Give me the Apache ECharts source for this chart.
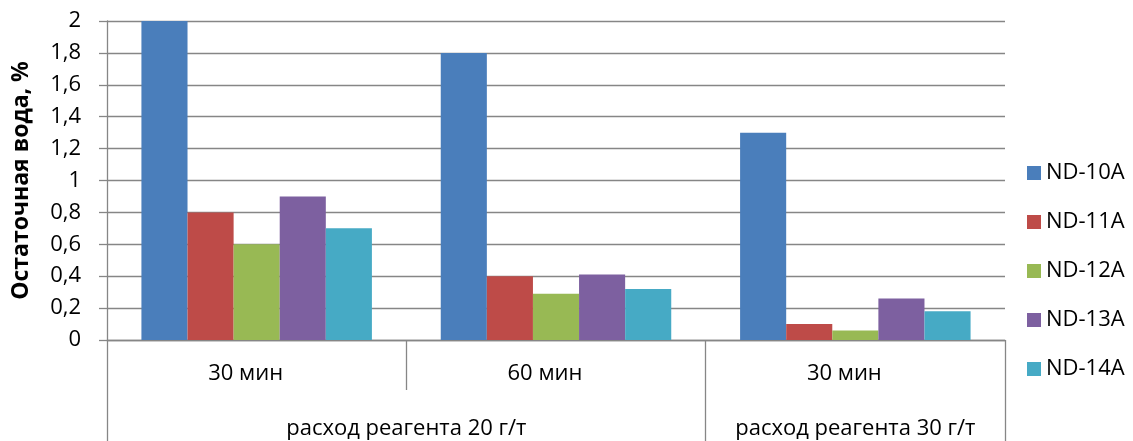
<!DOCTYPE html>
<html>
<head>
<meta charset="utf-8">
<script src="https://cdn.jsdelivr.net/npm/echarts@6/dist/echarts.min.js"></script>
<style>
  html, body { margin: 0; padding: 0; background: #fff; }
  #chart { width: 1133px; height: 441px; }
</style>
</head>
<body>
<div id="chart"></div>
<script>
// Residual water after treatment, by reagent and settling time
const timeLabels = ['30 мин', '60 мин', '30 мин'];
// Outer level: dosage groups, placed on group boundaries (7 points for 3 groups split in halves)
const dosageLabels = ['', '', 'расход реагента 20 г/т', '', '', 'расход реагента 30 г/т', ''];
const dosageDividers = [0, 4, 6];

const seriesNames = ['ND-10A', 'ND-11A', 'ND-12A', 'ND-13A', 'ND-14A'];
const nd10a = [2.0, 1.8, 1.3];
const nd11a = [0.8, 0.4, 0.1];
const nd12a = [0.6, 0.29, 0.06];
const nd13a = [0.9, 0.41, 0.26];
const nd14a = [0.7, 0.32, 0.18];
const colors = ['#4a7ebb', '#be4b48', '#98b954', '#7d60a0', '#46aac5'];

const yName = 'Остаточная вода, %';
const FONT = '"Open Sans", "Noto Sans", sans-serif';
const AXIS_GRAY = '#868686';

const values = [nd10a, nd11a, nd12a, nd13a, nd14a];

const chart = echarts.init(document.getElementById('chart'), null, { renderer: 'canvas' });
chart.setOption({
  animation: false,
  color: colors,
  textStyle: { fontFamily: FONT, color: '#000' },
  grid: { left: 107, right: 128, top: 21, bottom: 101, containLabel: false },
  legend: {
    orient: 'vertical',
    left: 1022,
    top: 157,
    itemWidth: 14,
    itemHeight: 14,
    itemGap: 27,
    icon: 'rect',
    textStyle: { fontFamily: FONT, fontSize: 22, color: '#000' },
    data: seriesNames
  },
  xAxis: [
    {
      type: 'category',
      data: timeLabels,
      position: 'bottom',
      axisLine: { show: true, lineStyle: { color: AXIS_GRAY, width: 1.3 } },
      axisTick: { show: true, length: 50, lineStyle: { color: AXIS_GRAY, width: 1.3 } },
      axisLabel: {
        fontFamily: FONT, fontSize: 22, color: '#000', margin: 23, interval: 0,
        padding: [0, 22, 0, 0]
      },
      splitLine: { show: false }
    },
    {
      type: 'category',
      data: dosageLabels,
      boundaryGap: false,
      position: 'bottom',
      offset: 50,
      axisLine: { show: false },
      axisTick: {
        show: true,
        length: 52,
        interval: function (index) { return dosageDividers.indexOf(index) >= 0; },
        lineStyle: { color: AXIS_GRAY, width: 1.3 }
      },
      axisLabel: { fontFamily: FONT, fontSize: 22, color: '#000', margin: 28, interval: 0 },
      splitLine: { show: false }
    }
  ],
  yAxis: {
    type: 'value',
    min: 0,
    max: 2,
    interval: 0.2,
    name: yName,
    nameLocation: 'middle',
    nameGap: 74,
    nameTextStyle: { fontFamily: FONT, fontSize: 23, fontWeight: 'bold', color: '#000' },
    axisLine: { show: true, lineStyle: { color: AXIS_GRAY, width: 1.3 } },
    axisTick: { show: true, length: 8, lineStyle: { color: AXIS_GRAY, width: 1.3 } },
    axisLabel: {
      fontFamily: FONT, fontSize: 22, color: '#000', margin: 26,
      formatter: function (v) { return String(Math.round(v * 10) / 10).replace('.', ','); }
    },
    splitLine: { show: true, lineStyle: { color: AXIS_GRAY, width: 1.3 } }
  },
  series: seriesNames.map(function (name, i) {
    return {
      name: name,
      type: 'bar',
      xAxisIndex: 0,
      data: values[i],
      barGap: '0%',
      barCategoryGap: '23%',
      itemStyle: { color: colors[i] }
    };
  })
});
</script>
</body>
</html>
